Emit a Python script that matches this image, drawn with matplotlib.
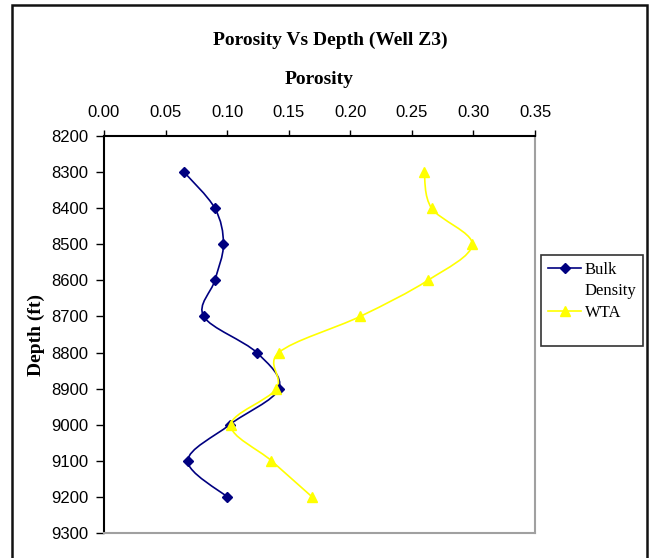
import numpy as np
import matplotlib.pyplot as plt
from matplotlib.path import Path
from matplotlib.patches import PathPatch, Rectangle
from matplotlib.lines import Line2D

depth = [8300, 8400, 8500, 8600, 8700, 8800, 8900, 9000, 9100, 9200]
bulk_density = [0.065, 0.090, 0.097, 0.090, 0.081, 0.124, 0.142, 0.102, 0.068, 0.100]
wta = [0.260, 0.266, 0.299, 0.263, 0.208, 0.142, 0.140, 0.103, 0.136, 0.169]
x_ticks = [0.00, 0.05, 0.10, 0.15, 0.20, 0.25, 0.30, 0.35]
y_ticks = list(range(8200, 9301, 100))

NAVY = "#000080"
YELLOW = "#FFFF00"
SERIF = "Liberation Serif"
SANS = "Liberation Sans"


def smooth_path(xs, ys):
    # Excel-style smoothed line: cubic bezier segments through the points
    pts = np.column_stack([xs, ys]).astype(float)
    n = len(pts)
    verts = [pts[0]]
    codes = [Path.MOVETO]
    for i in range(n - 1):
        p0 = pts[i - 1] if i > 0 else pts[i]
        p1, p2 = pts[i], pts[i + 1]
        p3 = pts[i + 2] if i + 2 < n else pts[i + 1]
        verts += [p1 + (p2 - p0) / 6, p2 - (p3 - p1) / 6, p2]
        codes += [Path.CURVE4] * 3
    return Path(verts, codes)


fig = plt.figure(figsize=(6.49, 5.58), dpi=100)
# outer chart border (runs off the bottom of the picture)
fig.patches.append(Rectangle((12 / 649, -10 / 558), 635 / 649, 563 / 558,
                             transform=fig.transFigure, fill=False,
                             edgecolor="#111111", linewidth=1.8))

ax = fig.add_axes([104 / 649, 1 - 533 / 558, 431 / 649, 397 / 558])

for vals, col, mk, ms in [(bulk_density, NAVY, "D", 5), (wta, YELLOW, "^", 7)]:
    ax.add_patch(PathPatch(smooth_path(vals, depth), facecolor="none",
                           edgecolor=col, linewidth=1.2, zorder=2))
    ax.plot(vals, depth, linestyle="none", marker=mk, markersize=ms,
            color=col, zorder=3)

ax.set_xlim(0, 0.35)
ax.set_ylim(9300, 8200)
ax.set_xticks(x_ticks)
ax.set_xticklabels([f"{v:.2f}" for v in x_ticks], fontfamily=SANS, fontsize=12)
ax.set_yticks(y_ticks)
ax.set_yticklabels([str(v) for v in y_ticks], fontfamily=SANS, fontsize=12)
ax.xaxis.tick_top()
ax.xaxis.set_label_position("top")
ax.tick_params(axis="x", direction="out", length=4, width=1, pad=7.5)
ax.tick_params(axis="y", direction="out", length=6, width=1, pad=5)

ax.spines["top"].set_color("black")
ax.spines["left"].set_color("black")
ax.spines["right"].set_color("#a0a0a0")
ax.spines["bottom"].set_color("#a0a0a0")
for s in ax.spines.values():
    s.set_linewidth(1.5)

ax.set_xlabel("Porosity", fontfamily=SERIF, fontweight="bold", fontsize=14, labelpad=15)
ax.set_ylabel("Depth (ft)", fontfamily=SERIF, fontweight="bold", fontsize=14, labelpad=5)
fig.text(330 / 649, 1 - 40 / 558, "Porosity Vs Depth (Well Z3)", ha="center", va="center",
         fontfamily=SERIF, fontweight="bold", fontsize=14)

handles = [Line2D([], [], color=NAVY, marker="D", markersize=5, linewidth=1.2),
           Line2D([], [], color="none"),
           Line2D([], [], color=YELLOW, marker="^", markersize=7, linewidth=1.2),
           Line2D([], [], color="none")]
leg = fig.legend(handles, ["Bulk", "Density", "WTA", " "], loc="upper left",
                 bbox_to_anchor=(541 / 649, 1 - 255 / 558), borderaxespad=0,
                 frameon=True, fancybox=False, edgecolor="black",
                 prop={"family": SERIF, "size": 12}, handlelength=2.0,
                 handletextpad=0.2, labelspacing=0.32, borderpad=0.42)
leg.get_frame().set_linewidth(1.2)
leg.get_texts()[3].set_fontsize(4)  # blank spacer row at the bottom of the box

fig.savefig("out.png", dpi=100)
